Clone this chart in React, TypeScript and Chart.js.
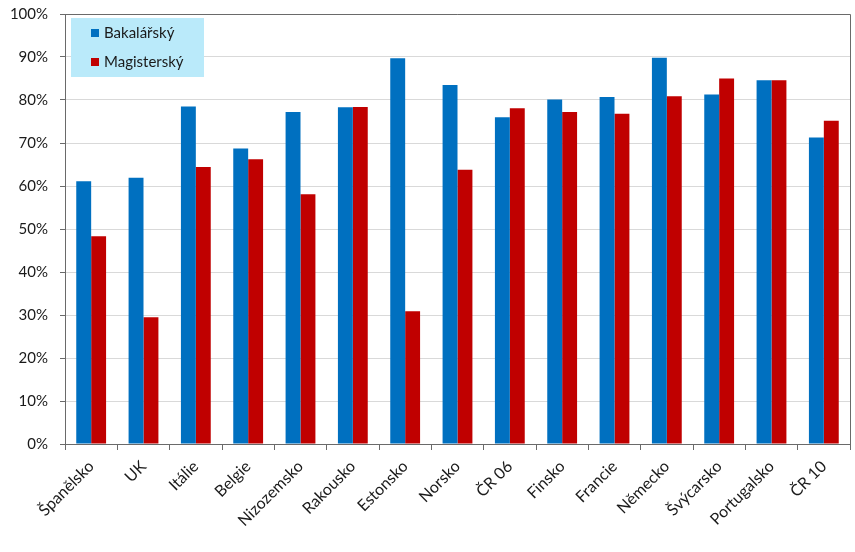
import React, { useEffect, useRef } from "react";
import { Chart, registerables } from "chart.js";

Chart.register(...registerables);

const categories = [
  "Španělsko", "UK", "Itálie", "Belgie", "Nizozemsko", "Rakousko", "Estonsko",
  "Norsko", "ČR 06", "Finsko", "Francie", "Německo", "Švýcarsko", "Portugalsko", "ČR 10",
];
const bakalarsky = [61.1, 61.9, 78.5, 68.7, 77.2, 78.3, 89.7, 83.5, 76.0, 80.1, 80.7, 89.8, 81.3, 84.6, 71.3];
const magistersky = [48.3, 29.5, 64.4, 66.2, 58.1, 78.4, 30.9, 63.8, 78.1, 77.2, 76.8, 80.9, 85.0, 84.6, 75.2];
const seriesNames = ["Bakalářský", "Magisterský"];
const seriesColors = ["#0070C0", "#C00000"];

const FONT = "Lato, 'Open Sans', sans-serif";

const framePlugin = {
  id: "frame",
  afterDatasetsDraw(chart: any) {
    const { ctx, chartArea } = chart;
    ctx.save();
    ctx.strokeStyle = "#6a6a6a";
    ctx.lineWidth = 1;
    ctx.beginPath();
    ctx.moveTo(chartArea.left, chartArea.top + 0.5);
    ctx.lineTo(chartArea.right + 0.5, chartArea.top + 0.5);
    ctx.lineTo(chartArea.right + 0.5, chartArea.bottom);
    ctx.stroke();
    ctx.restore();
  },
};

const legendPlugin = {
  id: "boxLegend",
  afterDraw(chart: any) {
    const { ctx, chartArea } = chart;
    const x0 = chartArea.left + 6;
    const y0 = chartArea.top + 4;
    ctx.save();
    ctx.fillStyle = "#BAEAFA";
    ctx.fillRect(x0, y0, 133, 59);
    ctx.font = `15px ${FONT}`;
    ctx.textBaseline = "middle";
    chart.data.datasets.forEach((ds: any, i: number) => {
      const cy = y0 + 15 + i * 29;
      ctx.fillStyle = ds.backgroundColor;
      ctx.fillRect(x0 + 20, cy - 4, 8, 8);
      ctx.fillStyle = "#1a1a1a";
      ctx.fillText(ds.label, x0 + 33, cy);
    });
    ctx.restore();
  },
};

export default function App() {
  const ref = useRef<HTMLCanvasElement>(null);
  useEffect(() => {
    const chart = new Chart(ref.current!, {
      type: "bar",
      data: {
        labels: categories,
        datasets: [
          { label: seriesNames[0], data: bakalarsky, backgroundColor: seriesColors[0] },
          { label: seriesNames[1], data: magistersky, backgroundColor: seriesColors[1] },
        ],
      },
      options: {
        animation: false,
        responsive: false,
        maintainAspectRatio: false,
        layout: { padding: { top: 14, right: 5, left: 0, bottom: 0 } },
        datasets: { bar: { categoryPercentage: 0.57, barPercentage: 1 } },
        plugins: { legend: { display: false }, tooltip: { enabled: false } },
        scales: {
          x: {
            grid: { display: true, drawOnChartArea: false, offset: true, tickLength: 6, color: "#6a6a6a" },
            border: { color: "#6a6a6a" },
            ticks: {
              maxRotation: 45, minRotation: 45, padding: 7,
              color: "#1a1a1a", font: { family: FONT, size: 16 },
            },
            afterFit(scale: any) { scale.height = 108; },
          },
          y: {
            min: 0, max: 100,
            ticks: {
              stepSize: 10, padding: 12, color: "#1a1a1a",
              font: { family: FONT, size: 15 },
              callback: (v: any) => `${v}%`,
            },
            grid: { color: "#D9D9D9", tickLength: 5, tickColor: "#6a6a6a" },
            border: { color: "#6a6a6a" },
            afterFit(scale: any) {
              scale.width = 65;
              scale.paddingTop = 0;
              scale.paddingBottom = 0;
            },
          },
        },
      },
      plugins: [framePlugin, legendPlugin],
    });
    return () => chart.destroy();
  }, []);
  return (
    <div style={{ position: "fixed", left: 0, top: 0, width: 855, height: 552, background: "#fff" }}>
      <canvas ref={ref} width={855} height={552} style={{ display: "block" }} />
    </div>
  );
}
